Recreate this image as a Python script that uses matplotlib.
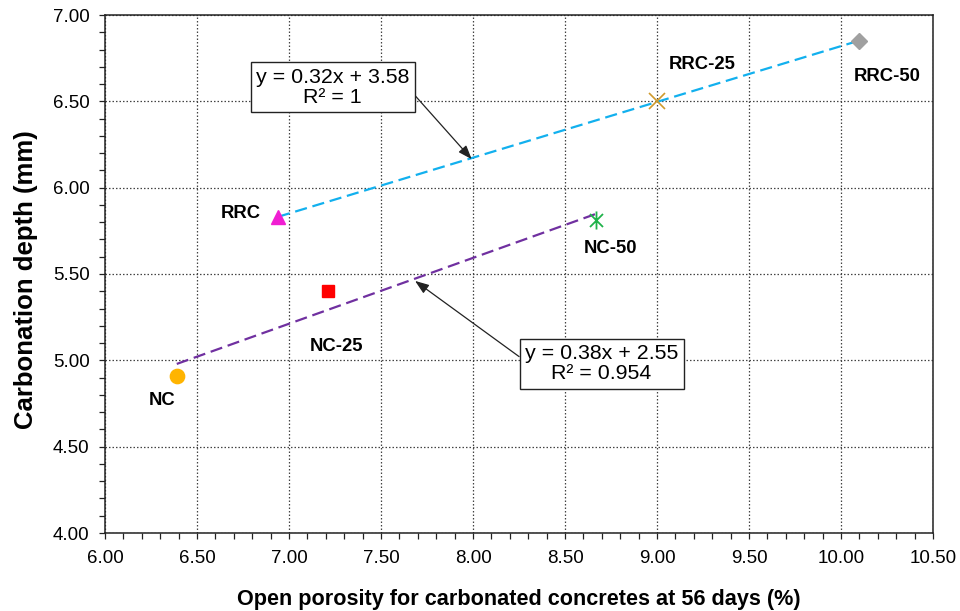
import numpy as np
import matplotlib
matplotlib.use("Agg")
import matplotlib.pyplot as plt
from matplotlib.path import Path
from matplotlib.ticker import MultipleLocator, FormatStrFormatter

plt.rcParams['font.family'] = ['Liberation Sans', 'DejaVu Sans']

# ---- data ----
names = ["NC", "NC-25", "NC-50", "RRC", "RRC-25", "RRC-50"]
porosity = [6.39, 7.21, 8.67, 6.94, 9.00, 10.10]
depth = [4.91, 5.40, 5.81, 5.83, 6.50, 6.85]
nc_group = ["NC", "NC-25", "NC-50"]
rrc_group = ["RRC", "RRC-25", "RRC-50"]
eq_nc = "y = 0.38x + 2.55\nR² = 0.954"
eq_rrc = "y = 0.32x + 3.58\nR² = 1"

# ---- styles / layout ----
asterisk = Path([(0, -1), (0, 1), (-0.72, -0.72), (0.72, 0.72), (-0.72, 0.72), (0.72, -0.72)],
                [Path.MOVETO, Path.LINETO, Path.MOVETO, Path.LINETO, Path.MOVETO, Path.LINETO])
styles = {
    "NC": dict(marker='o', ms=10.3, mfc='#FFB400', mec='#FFB400'),
    "NC-25": dict(marker='s', ms=9.2, mfc='#FF0000', mec='#FF0000'),
    "NC-50": dict(marker=asterisk, ms=13, mfc='none', mec='#1FB24A', mew=1.3),
    "RRC": dict(marker='^', ms=10.5, mfc='#F01ED2', mec='#F01ED2'),
    "RRC-25": dict(marker='x', ms=12, mfc='none', mec='#D09A2C', mew=1.2),
    "RRC-50": dict(marker='D', ms=8, mfc='#A0A0A0', mec='#A0A0A0'),
}
label_pos = {
    "NC": (6.31, 4.77), "NC-25": (7.26, 5.08), "NC-50": (8.745, 5.65),
    "RRC": (6.74, 5.852), "RRC-25": (9.243, 6.715), "RRC-50": (10.25, 6.643),
}

fig = plt.figure(figsize=(9.6, 6.11), dpi=100)
ax = fig.add_axes([105/960, 1-533/611, (933-105)/960, (533-15)/611])

ax.set_xlim(6.0, 10.5)
ax.set_ylim(4.0, 7.0)
ax.xaxis.set_major_locator(MultipleLocator(0.5))
ax.xaxis.set_minor_locator(MultipleLocator(0.1))
ax.yaxis.set_major_locator(MultipleLocator(0.5))
ax.yaxis.set_minor_locator(MultipleLocator(0.1))
ax.xaxis.set_major_formatter(FormatStrFormatter('%.2f'))
ax.yaxis.set_major_formatter(FormatStrFormatter('%.2f'))
ax.tick_params(which='both', direction='out', length=4, width=0.9, color='#222')
ax.tick_params(which='major', labelsize=13.5)
ax.tick_params(axis='x', which='major', pad=8)
ax.tick_params(axis='y', which='major', pad=7)
ax.grid(True, which='major', linestyle=(0, (1.2, 1.6)), color='#444', lw=0.9)
ax.set_axisbelow(True)
for s in ax.spines.values():
    s.set_color('#222')
    s.set_linewidth(1.1)

# trend lines
idx = {n: i for i, n in enumerate(names)}
for grp, col in [(nc_group, '#7030A0'), (rrc_group, '#12B0EE')]:
    xs = np.array([porosity[idx[n]] for n in grp])
    ys = np.array([depth[idx[n]] for n in grp])
    k, b = np.polyfit(xs, ys, 1)
    xx = np.array([xs.min(), xs.max()])
    ax.plot(xx, k*xx + b, color=col, lw=1.6, dashes=[5.5, 2.6], zorder=3)

# points and labels
for n in names:
    ax.plot(porosity[idx[n]], depth[idx[n]], linestyle='none', zorder=4, **styles[n])
    ax.text(*label_pos[n], n, ha='center', va='center', fontsize=13.3, fontweight='bold')

# equation boxes
box = dict(boxstyle='square,pad=0.25', fc='white', ec='#222', lw=1.0)
arrow = dict(arrowstyle='-|>,head_length=0.6,head_width=0.22', color='#222', lw=0.9,
             shrinkA=0, shrinkB=0, mutation_scale=14)
ax.annotate(eq_rrc, xy=(7.993, 6.165), xytext=(7.238, 6.581), textcoords='data',
            ha='center', va='center', fontsize=15.4, linespacing=1.1, bbox=box,
            arrowprops=dict(relpos=(1.0, 0.45), **arrow), zorder=5)
ax.annotate(eq_nc, xy=(7.685, 5.46), xytext=(8.699, 4.981), textcoords='data',
            ha='center', va='center', fontsize=15.4, linespacing=1.1, bbox=box,
            arrowprops=dict(relpos=(0.0, 0.57), **arrow), zorder=5)

ax.set_xlabel("Open porosity for carbonated concretes at 56 days (%)", fontsize=15.6, fontweight='bold')
ax.set_ylabel("Carbonation depth (mm)", fontsize=18.5, fontweight='bold')
ax.xaxis.set_label_coords(0.5, (533-589)/518)
ax.yaxis.set_label_coords((38-105)/828, (533-280)/518)

fig.savefig("out.png", dpi=100)
